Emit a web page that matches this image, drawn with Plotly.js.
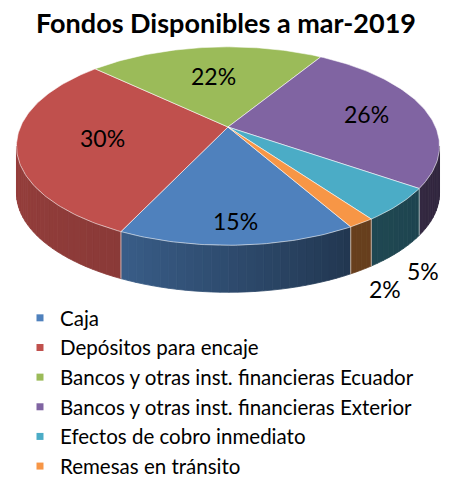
<!DOCTYPE html>
<html><head><meta charset="utf-8">
<script src="https://cdn.plot.ly/plotly-3.0.1.min.js"></script>
<style>html,body{margin:0;padding:0;background:#fff;}#chart{width:452px;height:479px;}</style>
</head><body><div id="chart"></div>
<script>
// ---- data ----
const categories = [
  'Caja',
  'Depósitos para encaje',
  'Bancos y otras inst. financieras Ecuador',
  'Bancos y otras inst. financieras Exterior',
  'Efectos de cobro inmediato',
  'Remesas en tránsito'
];
const values = [15.2, 30.1, 21.6, 26.0, 5.4, 1.7];
const colors = ['#4F81BD', '#C0504D', '#9BBB59', '#8064A2', '#4BACC6', '#F79646'];
const titleText = 'Fondos Disponibles a mar-2019';

// ---- 3D pie geometry (style) ----
const CX = 228, CY = 127;       // apex on screen
const D = 4.62, F = 959;        // camera distance (in radii) and focal length
const PHI = 27.4 * Math.PI / 180; // elevation
const DEPTH_PX = 47;            // side wall height on screen
const START = -60.5;            // first slice angle (deg, screen-space ccw)
const labelRadius = [0.83, 0.6, 0.6, 0.7, 0, 0];
const outsideShift = [24, -19];
const shadeKnots = [[-170, 0.78], [-115, 0.72], [-60, 0.42], [-10, 0.38]];

function proj(r, tdeg) {
  const t = tdeg * Math.PI / 180;
  const depth = D + r * Math.sin(t) * Math.cos(PHI);
  const up = r * Math.sin(t) * Math.sin(PHI);
  return [CX + F * r * Math.cos(t) / depth, CY - F * up / depth];
}
function projB(r, tdeg) { const p = proj(r, tdeg); return [p[0], p[1] + DEPTH_PX]; }
function hexRgb(h) { return [1, 3, 5].map(i => parseInt(h.substr(i, 2), 16)); }
function shade(t) {
  const k = shadeKnots;
  if (t <= k[0][0]) return k[0][1];
  for (let i = 1; i < k.length; i++) {
    if (t <= k[i][0]) {
      const f = (t - k[i - 1][0]) / (k[i][0] - k[i - 1][0]);
      return k[i - 1][1] + f * (k[i][1] - k[i - 1][1]);
    }
  }
  return k[k.length - 1][1];
}
function shadedColor(hex, s) {
  const c = hexRgb(hex).map(v => Math.round(v * s));
  return 'rgb(' + c.join(',') + ')';
}

const total = values.reduce((a, b) => a + b, 0);
const slices = [];
let cum = 0;
values.forEach((v, i) => {
  const a0 = START - 360 * cum / total;
  const a1 = START - 360 * (cum + v) / total;
  slices.push({ i, a0, a1, mid: (a0 + a1) / 2, pct: v / total * 100 });
  cum += v;
});

// visible side range: between leftmost and rightmost points of the top ellipse
const sil = Math.asin(-Math.cos(PHI) / D) * 180 / Math.PI;
const visHi = sil, visLo = -180 - sil;

const traces = [];
// side walls
slices.forEach(s => {
  let hi = s.a0, lo = s.a1;
  while (lo > visHi) { hi -= 360; lo -= 360; }
  while (hi < visLo) { hi += 360; lo += 360; }
  const a = Math.min(hi, visHi), b = Math.max(lo, visLo);
  if (a <= b) return;
  const n = Math.max(1, Math.ceil((a - b) / 2));
  for (let j = 0; j < n; j++) {
    const t1 = a - (a - b) * j / n, t2 = a - (a - b) * (j + 1) / n;
    const p1 = proj(1, t1), p2 = proj(1, t2), p3 = projB(1, t2), p4 = projB(1, t1);
    const col = shadedColor(colors[s.i], shade((t1 + t2) / 2));
    traces.push({
      type: 'scatter', mode: 'lines', x: [p1[0], p2[0], p3[0], p4[0], p1[0]], y: [p1[1], p2[1], p3[1], p4[1], p1[1]],
      fill: 'toself', fillcolor: col, line: { color: col, width: 0.8 }, showlegend: false, hoverinfo: 'skip'
    });
  }
});
// side boundary lines
slices.forEach(s => {
  let t = s.a0;
  while (t > visHi) t -= 360;
  while (t < visLo) t += 360;
  if (t < visHi && t > visLo) {
    const p = proj(1, t), q = projB(1, t);
    traces.push({ type: 'scatter', mode: 'lines', x: [p[0], q[0]], y: [p[1], q[1]],
      line: { color: 'rgba(255,255,255,0.6)', width: 1 }, showlegend: false, hoverinfo: 'skip' });
  }
});
// top faces
slices.forEach(s => {
  const xs = [CX], ys = [CY];
  const n = Math.max(2, Math.ceil((s.a0 - s.a1) / 1));
  for (let j = 0; j <= n; j++) {
    const p = proj(1, s.a0 - (s.a0 - s.a1) * j / n);
    xs.push(p[0]); ys.push(p[1]);
  }
  xs.push(CX); ys.push(CY);
  traces.push({ type: 'scatter', mode: 'lines', x: xs, y: ys, fill: 'toself', fillcolor: colors[s.i],
    line: { color: 'rgba(255,255,255,0.55)', width: 1 }, showlegend: false, hoverinfo: 'skip' });
});
// legend entries
categories.forEach((c, i) => {
  traces.push({ type: 'scatter', mode: 'markers', x: [null], y: [null], name: c, legendgroup: 'g' + i,
    marker: { symbol: 'square', size: 7, color: colors[i] }, showlegend: true, hoverinfo: 'skip' });
});

// labels
const annotations = slices.map(s => {
  const txt = Math.round(s.pct) + '%';
  if (s.pct >= 10) {
    const p = proj(labelRadius[s.i], s.mid);
    return { x: p[0], y: p[1], text: txt, showarrow: false, font: { family: 'Lato', size: 23, color: '#000' } };
  }
  const p = projB(1, s.mid);
  return { x: p[0], y: p[1], xshift: outsideShift[0], yshift: outsideShift[1], text: txt, showarrow: false,
    font: { family: 'Lato', size: 23, color: '#000' } };
});

const layout = {
  width: 452, height: 479,
  margin: { l: 0, r: 0, t: 0, b: 0, autoexpand: false },
  paper_bgcolor: '#fff', plot_bgcolor: '#fff',
  title: { text: '<b>' + titleText + '</b>', font: { family: 'Lato', size: 27, color: '#000' },
    x: 0.5, xanchor: 'center', y: 1 - 24 / 479, yanchor: 'middle', yref: 'container' },
  xaxis: { range: [0, 452], visible: false, fixedrange: true },
  yaxis: { range: [479, 0], visible: false, fixedrange: true },
  showlegend: true,
  legend: { x: 20 / 452, y: 1 - 298 / 479, xanchor: 'left', yanchor: 'top', tracegroupgap: 0,
    font: { family: 'Lato', size: 20.5, color: '#000' }, bgcolor: 'rgba(0,0,0,0)', itemclick: false },
  annotations
};
Plotly.newPlot('chart', traces, layout, { staticPlot: true, displayModeBar: false });
</script></body></html>
